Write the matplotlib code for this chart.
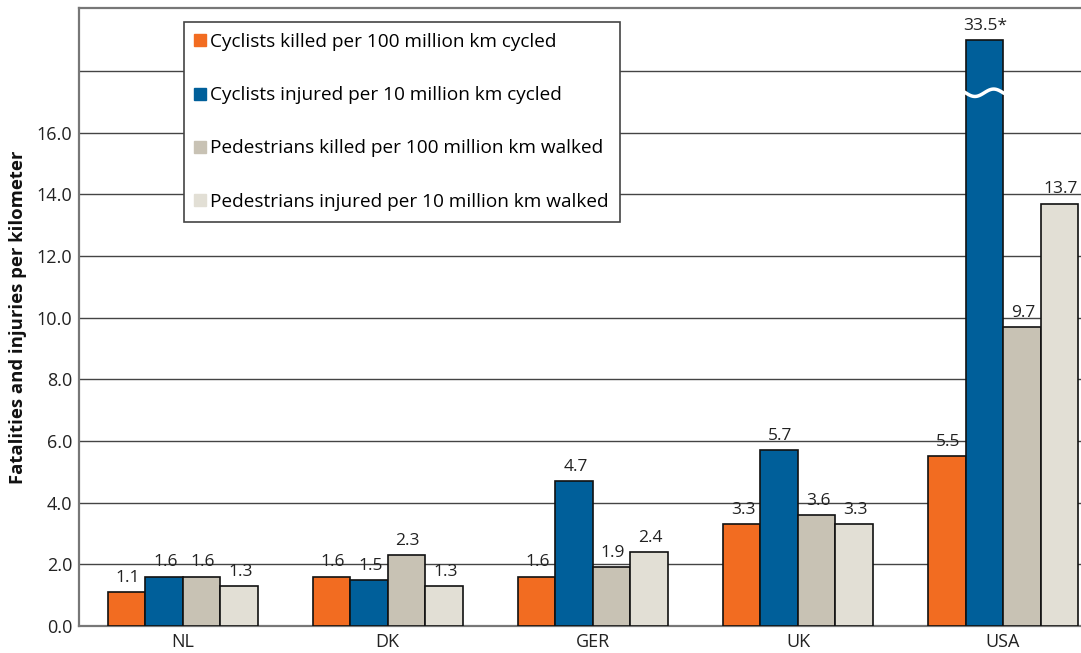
import numpy as np
import matplotlib.pyplot as plt
from matplotlib.lines import Line2D

countries = ["NL", "DK", "GER", "UK", "USA"]
cyc_killed = [1.1, 1.6, 1.6, 3.3, 5.5]
cyc_injured = [1.6, 1.5, 4.7, 5.7, 33.5]
ped_killed = [1.6, 2.3, 1.9, 3.6, 9.7]
ped_injured = [1.3, 1.3, 2.4, 3.3, 13.7]
series_names = ["Cyclists killed per 100 million km cycled",
                "Cyclists injured per 10 million km cycled",
                "Pedestrians killed per 100 million km walked",
                "Pedestrians injured per 10 million km walked"]
colors = ["#F26C21", "#005F9A", "#C8C2B4", "#E2DFD5"]
cap = 19.0        # drawn height of the out-of-scale bar
break_at = 17.3   # where the bar is broken

plt.rcParams['font.family'] = ['Open Sans', 'DejaVu Sans']

fig = plt.figure(figsize=(10.81, 6.53), dpi=100)
ax = fig.add_axes([79/1081, 27/653, 1002/1081, 618/653])

x = np.arange(len(countries))
w = 0.183
all_series = [cyc_killed, cyc_injured, ped_killed, ped_injured]
for k, vals in enumerate(all_series):
    pos = x + (k - 1.5) * w
    shown = [min(v, cap) for v in vals]
    ax.bar(pos, shown, w, color=colors[k], edgecolor="#111111", linewidth=1.2, zorder=3)
    for p, v, s in zip(pos, vals, shown):
        txt = "%.1f" % v
        if v > cap:
            txt += "*"
        ax.annotate(txt, (p, s), xytext=(1, 4.5), textcoords="offset points",
                    ha="center", va="bottom", fontsize=12.5, color="#222222")
        if v > cap:
            xs = np.linspace(p - w / 2, p + w / 2, 50)
            ys = break_at + 0.12 * np.sin((xs - (p - w / 2)) / w * 2 * np.pi + np.pi)
            ax.plot(xs, ys, color="white", linewidth=2.5, zorder=4)

ax.set_xlim(-0.505, 4.38)
ax.set_ylim(0, 20.05)
ax.set_yticks(np.arange(0, 20, 2))
ax.set_yticklabels(["%.1f" % t for t in np.arange(0, 17, 2)] + [""])
ax.set_xticks(x)
ax.set_xticklabels(countries)
ax.tick_params(length=0, labelsize=13, colors="#222222", pad=5)
ax.tick_params(axis="x", pad=5)
ax.grid(axis="y", color="#444444", linewidth=1.0, zorder=0)
for s in ["left", "bottom", "top"]:
    ax.spines[s].set_color("#777777")
    ax.spines[s].set_linewidth(1.6)
ax.spines["right"].set_visible(False)
ax.set_ylabel("Fatalities and injuries per kilometer", fontsize=13.3, fontweight="bold",
              labelpad=7, color="#111111")

handles = [Line2D([], [], marker="s", linestyle="none", markersize=8,
                  markerfacecolor=c, markeredgecolor=c) for c in colors]
leg = ax.legend(handles, series_names, loc="upper left", bbox_to_anchor=(0.105, 0.978),
                fontsize=13.7, labelspacing=1.85, handlelength=0.5, handletextpad=0.25,
                borderpad=0.6, fancybox=False, framealpha=1, edgecolor="#444444",
                borderaxespad=0)
leg.get_frame().set_linewidth(1.2)
leg.set_zorder(5)

fig.savefig("out.png", dpi=100)
